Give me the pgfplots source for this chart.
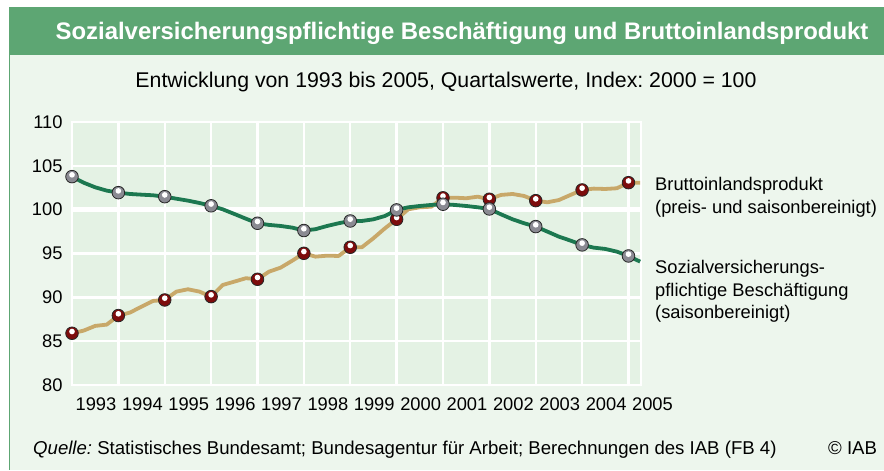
\documentclass[border=0pt]{standalone}
\usepackage{pgfplots}
\pgfplotsset{compat=1.18}
\usepackage{pgfplotstable}
\usepackage{fontspec}
\setmainfont{Liberation Sans}
\frenchspacing
\definecolor{hdr}{RGB}{93,166,115}
\definecolor{bodybg}{RGB}{237,246,237}
\definecolor{plotbg}{RGB}{228,242,228}
\definecolor{empl}{RGB}{28,120,80}
\definecolor{gdp}{RGB}{200,168,105}
\definecolor{ballred}{RGB}{125,12,12}
\definecolor{ballgray}{RGB}{138,138,146}

\pgfdeclareplotmark{grayball}{%
  \pgfsetlinewidth{0.8pt}\pgfsetdash{}{0pt}%
  \pgfsetstrokecolor{black!85}\pgfsetfillcolor{ballgray}%
  \pgfpathcircle{\pgfpointorigin}{\pgfplotmarksize}\pgfusepath{fill,stroke}%
  \pgfsetfillcolor{white}%
  \pgfpathcircle{\pgfpoint{0pt}{0.28\pgfplotmarksize}}{0.45\pgfplotmarksize}\pgfusepath{fill}}
\pgfdeclareplotmark{redball}{%
  \pgfsetlinewidth{0.8pt}\pgfsetdash{}{0pt}%
  \pgfsetstrokecolor{black!85}\pgfsetfillcolor{ballred}%
  \pgfpathcircle{\pgfpointorigin}{\pgfplotmarksize}\pgfusepath{fill,stroke}%
  \pgfsetfillcolor{white}%
  \pgfpathcircle{\pgfpoint{0pt}{0.28\pgfplotmarksize}}{0.45\pgfplotmarksize}\pgfusepath{fill}}

% x: years since 1993 (quarterly), 0 = 1993
\pgfplotstableread{
x y
0 85.9
0.25 86.2
0.5 86.74
0.75 86.89
1 87.92
1.25 88.26
1.5 88.94
1.75 89.59
2 89.7
2.25 90.65
2.5 90.92
2.75 90.65
3 90.08
3.25 91.41
3.5 91.79
3.75 92.18
4 92.06
4.25 92.93
4.5 93.39
4.75 94.18
5 95.02
5.25 94.64
5.5 94.75
5.75 94.72
6 95.71
6.25 95.71
6.5 96.74
6.75 97.88
7 98.9
7.25 100.04
7.5 100.27
7.75 100.34
8 101.35
8.25 101.37
8.5 101.3
8.75 101.48
9 101.19
9.25 101.68
9.5 101.79
9.75 101.56
10 101.03
10.25 100.84
10.5 101.1
10.75 101.68
11 102.25
11.25 102.4
11.5 102.36
11.75 102.44
12 103.08
12.25 103.08
}\gdptable

\pgfplotstableread{
x y
0 103.77
0.25 103.08
0.5 102.55
0.75 102.17
1 101.94
1.25 101.79
1.5 101.71
1.75 101.64
2 101.48
2.25 101.25
2.5 101.03
2.75 100.76
3 100.44
3.25 100.04
3.5 99.51
3.75 98.97
4 98.45
4.25 98.26
4.5 98.14
4.75 97.95
5 97.62
5.25 97.77
5.5 98.14
5.75 98.45
6 98.71
6.25 98.71
6.5 98.9
6.75 99.28
7 99.97
7.25 100.27
7.5 100.42
7.75 100.54
8 100.62
8.25 100.54
8.5 100.42
8.75 100.27
9 100.08
9.25 99.47
9.5 98.9
9.75 98.45
10 98.07
10.25 97.5
10.5 96.92
10.75 96.47
11 95.98
11.25 95.67
11.5 95.52
11.75 95.21
12 94.72
12.25 94.07
}\empltable

\begin{document}
\begin{tikzpicture}[x=1pt,y=1pt]
\fill[white] (0,0) rectangle (884,470);
\fill[bodybg] (9,0) rectangle (884,415);
\fill[hdr] (9,415) rectangle (884,463);
\draw[hdr, line width=1.2pt] (9.6,0) -- (9.6,415);
\node[anchor=base, text=white, inner sep=0pt, font=\bfseries\fontsize{23.9}{28}\selectfont] at (462,430.5) {Sozialversicherungspflichtige Beschäftigung und Bruttoinlandsprodukt};
\node[anchor=base, inner sep=0pt, font=\fontsize{21.3}{25}\selectfont] at (446,382) {Entwicklung von 1993 bis 2005, Quartalswerte, Index: 2000 = 100};

\begin{axis}[
  at={(72pt,85pt)}, anchor=south west,
  scale only axis, width=569pt, height=263pt,
  xmin=0, xmax=12.27, ymin=80, ymax=110,
  clip=false,
  axis background/.style={fill=plotbg},
  axis line style={white, line width=2.4pt},
  grid=major, major grid style={white, line width=2.4pt},
  major tick length=0pt,
  xtick={0,1,2,3,4,5,6,7,8,9,10,11,12},
  xticklabels={1993,1994,1995,1996,1997,1998,1999,2000,2001,2002,2003,2004,2005},
  ytick={80,85,90,95,100,105,110},
  yticklabels={80,85,90,95,100,105,110},
  extra y ticks={100}, extra y tick labels={},
  extra y tick style={grid=major, major grid style={white, line width=5pt}},
  /pgf/number format/assume math mode=true,
  tick label style={font=\fontsize{18.3}{22}\selectfont},
  xticklabel style={xshift=24pt, yshift=-9pt},
  yticklabel style={xshift=-6pt},
]
\addplot[gdp, line width=3.8pt, line join=round, mark=redball, mark repeat=4, mark size=6.3pt] table[x=x,y=y] {\gdptable};
\addplot[empl, line width=3.8pt, line join=round, mark=grayball, mark repeat=4, mark size=6.3pt] table[x=x,y=y] {\empltable};
\end{axis}

\begin{scope}[every node/.style={anchor=base west, inner sep=0pt, font=\fontsize{18.3}{22}\selectfont}]
\node at (655,279) {Bruttoinlandsprodukt};
\node at (655,256) {(preis- und saisonbereinigt)};
\node at (655,196.7) {Sozialversicherungs-};
\node at (655,173.3) {pflichtige Beschäftigung};
\node at (655,151.7) {(saisonbereinigt)};
\node[font=\fontsize{18.6}{22}\selectfont] at (33,15) {{\itshape Quelle:} Statistisches Bundesamt; Bundesagentur für Arbeit; Berechnungen des IAB (FB 4)};
\node[font=\fontsize{18.6}{22}\selectfont] at (828,15) {© IAB};
\end{scope}
\end{tikzpicture}
\end{document}
